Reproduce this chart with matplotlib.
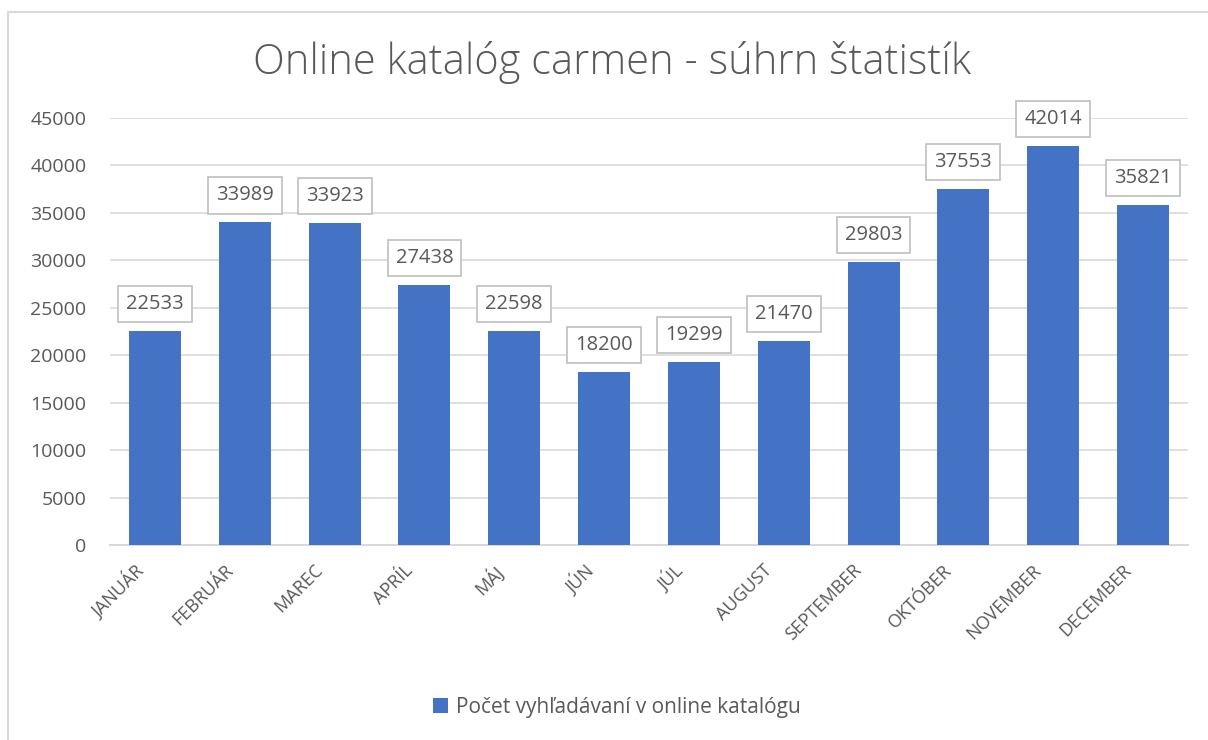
import matplotlib
matplotlib.use("Agg")
import matplotlib.pyplot as plt
from matplotlib.patches import Rectangle
from matplotlib.transforms import ScaledTranslation

plt.rcParams["font.family"] = ["Open Sans", "DejaVu Sans"]

months = ["JANUÁR", "FEBRUÁR", "MAREC", "APRÍL", "MÁJ", "JÚN", "JÚL",
          "AUGUST", "SEPTEMBER", "OKTÓBER", "NOVEMBER", "DECEMBER"]
searches = [22533, 33989, 33923, 27438, 22598, 18200, 19299, 21470,
            29803, 37553, 42014, 35821]
yticks = [0, 5000, 10000, 15000, 20000, 25000, 30000, 35000, 40000, 45000]

title = "Online katalóg carmen - súhrn štatistík"
series_name = "Počet vyhľadávaní v online katalógu"

blue = "#4472C4"
text_gray = "#595959"
grid_gray = "#D9D9D9"

fig = plt.figure(figsize=(12.08, 7.4), dpi=100)
ax = fig.add_axes([110 / 1208, 1 - 545 / 740, (1188 - 110) / 1208, (545 - 118) / 740])

# chart border
fig.patches.append(Rectangle((8 / 1208, -0.1), 1.2, 1 - 12 / 740 + 0.1,
                             transform=fig.transFigure, fill=False,
                             edgecolor=grid_gray, linewidth=1.5))

x = list(range(len(months)))
bars = ax.bar(x, searches, width=0.58, color=blue, label=series_name, zorder=3)

for xi, v in zip(x, searches):
    ax.annotate(str(v), (xi, v), xytext=(0, 27), textcoords="offset pixels",
                ha="center", va="center", fontsize=14.5, color=text_gray,
                bbox=dict(boxstyle="square,pad=0.4", fc="white",
                          ec="#BFBFBF", lw=1.2), zorder=4)

ax.set_xlim(-0.5, len(months) - 0.5)
ax.set_ylim(0, 45000)
ax.set_yticks(yticks)
ax.set_yticklabels([str(t) for t in yticks])
ax.set_xticks(x)
ax.set_xticklabels([])
# month labels, slanted, ending a bit left of each bar centre
shift = ScaledTranslation(-0.21, -0.16, fig.dpi_scale_trans)
for xi, m in zip(x, months):
    ax.text(xi, 0, m, transform=ax.get_xaxis_transform() + shift,
            rotation=45, ha="right", va="top", rotation_mode="anchor",
            fontsize=13, color=text_gray)
ax.tick_params(axis="y", length=0, pad=17, labelsize=14, labelcolor=text_gray)
ax.tick_params(axis="x", length=0)
ax.grid(axis="y", color=grid_gray, linewidth=1.2, zorder=0)
for s in ["top", "right", "left"]:
    ax.spines[s].set_visible(False)
ax.spines["bottom"].set_color(grid_gray)
ax.spines["bottom"].set_linewidth(1.5)

fig.text(612 / 1208, 1 - 62 / 740, title, ha="center", va="center",
         fontsize=30, fontweight="light", color=text_gray)

fig.legend(handles=[bars], labels=[series_name], loc="center",
           bbox_to_anchor=(617 / 1208, 1 - 707 / 740), frameon=False,
           fontsize=15, labelcolor=text_gray, handlelength=0.7,
           handleheight=0.7, handletextpad=0.4)

fig.savefig("out.png", dpi=100)
